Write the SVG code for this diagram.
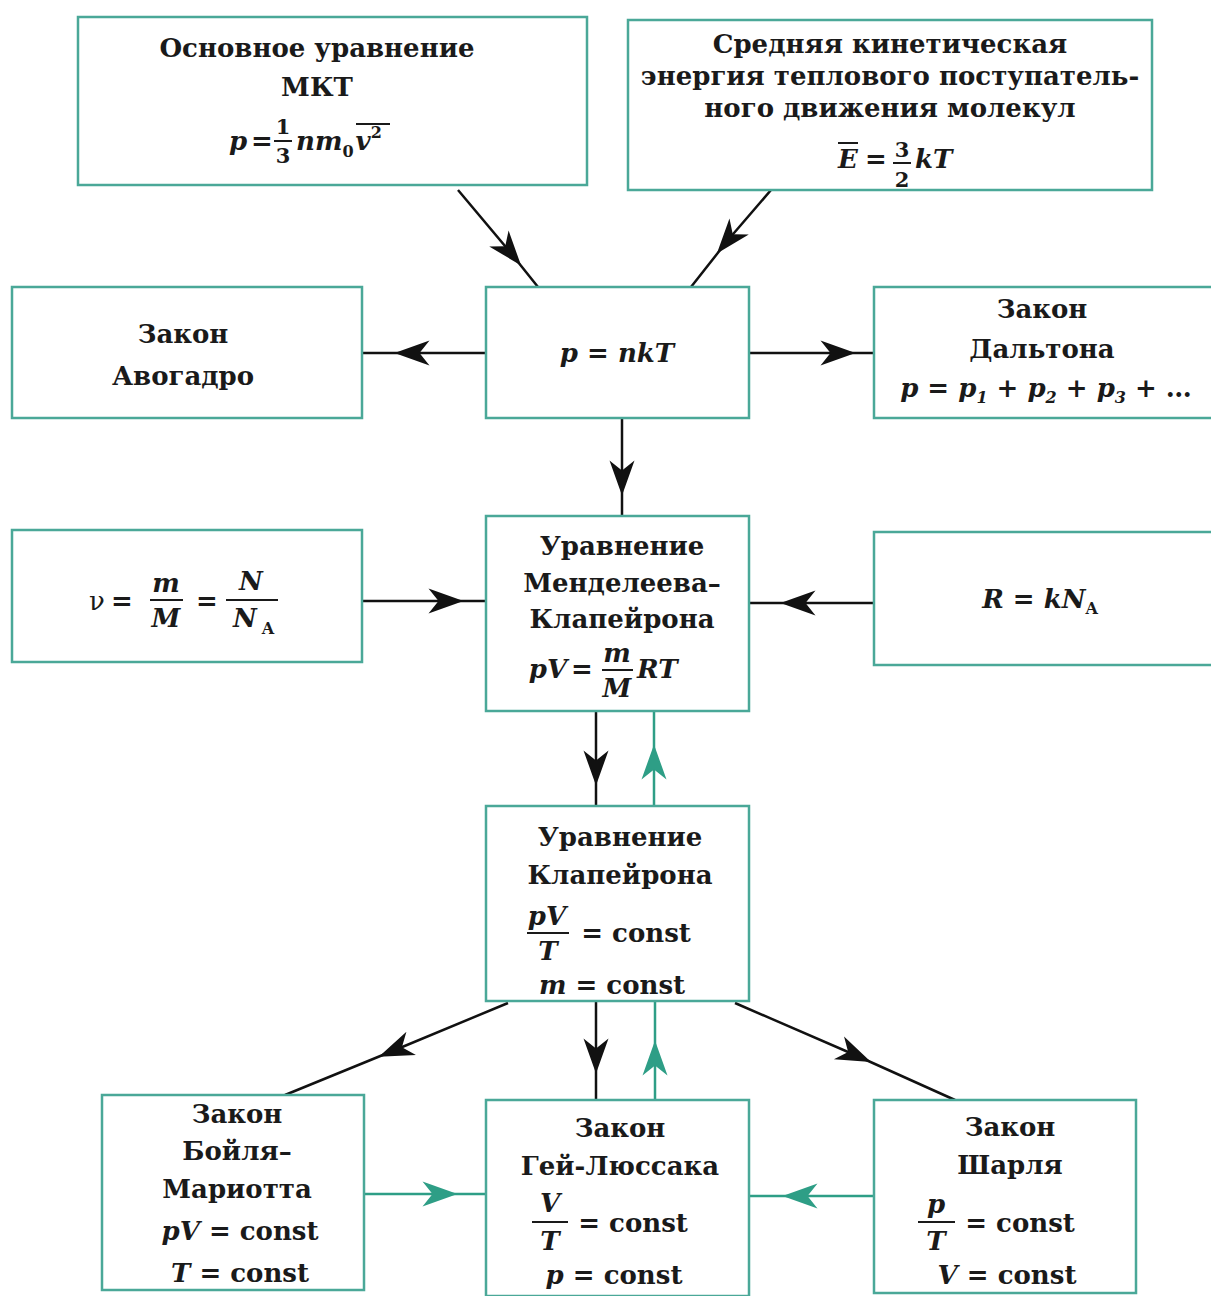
<svg xmlns="http://www.w3.org/2000/svg" width="1211" height="1296" viewBox="0 0 1211 1296">
<style>
.box{fill:#fff;stroke:#4aa898;stroke-width:2.5}
.t{font-family:"DejaVu Serif","Liberation Serif",serif;font-weight:bold;font-size:26px;fill:#1a1a1a;text-anchor:middle}
.i{font-style:italic}
.s{font-size:21px}
.xs{font-size:16px}
.bar{stroke:#1a1a1a;stroke-width:2}
.bk{fill:none;stroke:#111;stroke-width:2.5;marker-mid:url(#ab)}
.gr{fill:none;stroke:#2e9e86;stroke-width:2.5;marker-mid:url(#ag)}
</style>
<defs>
<marker id="ab" markerUnits="userSpaceOnUse" markerWidth="40" markerHeight="30" viewBox="-16 -12 32 24" refX="0" refY="0" orient="auto"><path d="M-14,-10 L14,0 L-14,10 L-6,0 Z" fill="#111"/></marker>
<marker id="ag" markerUnits="userSpaceOnUse" markerWidth="40" markerHeight="30" viewBox="-16 -12 32 24" refX="0" refY="0" orient="auto"><path d="M-14,-10 L14,0 L-14,10 L-6,0 Z" fill="#2e9e86"/></marker>
</defs>
<rect width="1211" height="1296" fill="#fff"/>
<g id="connectors">
<polyline class="bk" points="458,190 510,252 538,287"/>
<polyline class="bk" points="771,190 728,240 691,287"/>
<polyline class="bk" points="486,353 412,353 362,353"/>
<polyline class="bk" points="749,353 838,353 874,353"/>
<polyline class="bk" points="622,418 622,478 622,516"/>
<polyline class="bk" points="362,601 446,601 486,601"/>
<polyline class="bk" points="874,603 798,603 749,603"/>
<polyline class="bk" points="596,711 596,768 596,806"/>
<polyline class="gr" points="654,806 654,762 654,711"/>
<polyline class="bk" points="508,1003 395,1050 285,1095"/>
<polyline class="bk" points="596,1001 596,1056 596,1100"/>
<polyline class="gr" points="655,1100 655,1058 655,1001"/>
<polyline class="bk" points="735,1003 855,1055 955,1100"/>
<polyline class="gr" points="364,1194 440,1194 486,1194"/>
<polyline class="gr" points="874,1196 800,1196 749,1196"/>
</g>
<g id="mkt">
<rect class="box" x="78" y="17" width="509" height="168"/>
<text class="t" x="317" y="57">Основное уравнение</text>
<text class="t" x="317" y="96">МКТ</text>
<text class="t i" x="238" y="150">p</text>
<text class="t" x="262" y="150">=</text>
<text class="t s" x="283" y="134">1</text>
<line class="bar" x1="274" y1="141" x2="292" y2="141"/>
<text class="t s" x="283" y="163">3</text>
<text class="t i" x="296" y="150" style="text-anchor:start">nm<tspan class="xs" dy="7" style="font-style:normal">0</tspan><tspan dy="-7" dx="2">v</tspan><tspan class="xs" dy="-12" style="font-style:normal">2</tspan></text>
<line class="bar" x1="356" y1="124" x2="390" y2="124"/>
</g>
<g id="energy">
<rect class="box" x="628" y="20" width="524" height="170"/>
<text class="t" x="890" y="53">Средняя кинетическая</text>
<text class="t" x="890" y="85">энергия теплового поступатель-</text>
<text class="t" x="890" y="117">ного движения молекул</text>
<text class="t i" x="848" y="168">E</text>
<line class="bar" x1="838" y1="143" x2="858" y2="143"/>
<text class="t" x="876" y="168">=</text>
<text class="t s" x="902" y="157">3</text>
<line class="bar" x1="893" y1="163" x2="911" y2="163"/>
<text class="t s" x="902" y="187">2</text>
<text class="t i" x="915" y="168" style="text-anchor:start">kT</text>
</g>
<g id="nkt">
<rect class="box" x="486" y="287" width="263" height="131"/>
<text class="t i" x="617" y="362">p = nkT</text>
</g>
<g id="avogadro">
<rect class="box" x="12" y="287" width="350" height="131"/>
<text class="t" x="183" y="343">Закон</text>
<text class="t" x="183" y="385">Авогадро</text>
</g>
<g id="dalton">
<rect class="box" x="874" y="287" width="345" height="131"/>
<text class="t" x="1042" y="318">Закон</text>
<text class="t" x="1042" y="358">Дальтона</text>
<text class="t i" x="1046" y="397">p = p<tspan class="xs" dy="6">1</tspan><tspan dy="-6"> + p</tspan><tspan class="xs" dy="6">2</tspan><tspan dy="-6"> + p</tspan><tspan class="xs" dy="6">3</tspan><tspan dy="-6" style="font-style:normal"> + …</tspan></text>
</g>
<g id="nu">
<rect class="box" x="12" y="530" width="350" height="132"/>
<text class="t" x="97" y="610" style="font-weight:normal">ν</text>
<text class="t" x="122" y="610">=</text>
<text class="t i" x="166" y="592">m</text>
<line class="bar" x1="150" y1="600" x2="183" y2="600"/>
<text class="t i" x="166" y="627">M</text>
<text class="t" x="207" y="610">=</text>
<text class="t i" x="251" y="590">N</text>
<line class="bar" x1="226" y1="600" x2="278" y2="600"/>
<text class="t i" x="245" y="627">N</text>
<text class="t xs" x="268" y="634">A</text>
</g>
<g id="mendeleev">
<rect class="box" x="486" y="516" width="263" height="195"/>
<text class="t" x="622" y="555">Уравнение</text>
<text class="t" x="622" y="592">Менделеева–</text>
<text class="t" x="622" y="628">Клапейрона</text>
<text class="t i" x="548" y="678">pV</text>
<text class="t" x="582" y="678">=</text>
<text class="t i" x="617" y="662">m</text>
<line class="bar" x1="602" y1="670" x2="633" y2="670"/>
<text class="t i" x="617" y="697">M</text>
<text class="t i" x="637" y="678" style="text-anchor:start">RT</text>
</g>
<g id="rconst">
<rect class="box" x="874" y="532" width="345" height="133"/>
<text class="t i" x="1040" y="608">R = kN<tspan class="xs" dy="6" style="font-style:normal">A</tspan></text>
</g>
<g id="clapeyron">
<rect class="box" x="486" y="806" width="263" height="195"/>
<text class="t" x="620" y="846">Уравнение</text>
<text class="t" x="620" y="884">Клапейрона</text>
<text class="t i" x="547" y="925">pV</text>
<line class="bar" x1="527" y1="933" x2="569" y2="933"/>
<text class="t i" x="548" y="960">T</text>
<text class="t" x="636" y="942">= const</text>
<text class="t" x="612" y="994"><tspan class="i">m</tspan> = const</text>
</g>
<g id="boyle">
<rect class="box" x="102" y="1095" width="262" height="195"/>
<text class="t" x="237" y="1123">Закон</text>
<text class="t" x="237" y="1160">Бойля–</text>
<text class="t" x="237" y="1198">Мариотта</text>
<text class="t" x="240" y="1240"><tspan class="i">pV</tspan> = const</text>
<text class="t" x="240" y="1282"><tspan class="i">T</tspan> = const</text>
</g>
<g id="gaylussac">
<rect class="box" x="486" y="1100" width="263" height="196"/>
<text class="t" x="620" y="1137">Закон</text>
<text class="t" x="620" y="1175">Гей-Люссака</text>
<text class="t i" x="550" y="1212">V</text>
<line class="bar" x1="532" y1="1222" x2="568" y2="1222"/>
<text class="t i" x="550" y="1250">T</text>
<text class="t" x="633" y="1232">= const</text>
<text class="t" x="614" y="1284"><tspan class="i">p</tspan> = const</text>
</g>
<g id="charles">
<rect class="box" x="874" y="1100" width="262" height="193"/>
<text class="t" x="1010" y="1136">Закон</text>
<text class="t" x="1010" y="1174">Шарля</text>
<text class="t i" x="936" y="1213">p</text>
<line class="bar" x1="918" y1="1222" x2="955" y2="1222"/>
<text class="t i" x="936" y="1250">T</text>
<text class="t" x="1020" y="1232">= const</text>
<text class="t" x="1007" y="1284"><tspan class="i">V</tspan> = const</text>
</g>
</svg>
